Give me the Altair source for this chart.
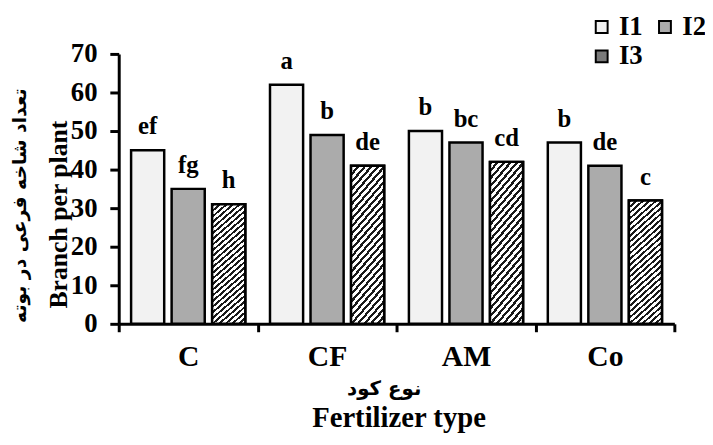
import altair as alt
import pandas as pd

categories = ["C", "CF", "AM", "Co"]
series = ["I1", "I2", "I3"]
i1_values = [45, 62, 50, 47]
i2_values = [35, 49, 47, 41]
i3_values = [31, 41, 42, 32]
i1_letters = ["ef", "a", "b", "b"]
i2_letters = ["fg", "b", "bc", "de"]
i3_letters = ["h", "de", "cd", "c"]
y_ticks = [0, 10, 20, 30, 40, 50, 60, 70]

rows = []
for s, vals, lets in zip(series, [i1_values, i2_values, i3_values],
                         [i1_letters, i2_letters, i3_letters]):
    for c, v, l in zip(categories, vals, lets):
        rows.append({"cat": c, "series": s, "value": v, "letter": l})
df = pd.DataFrame(rows)

FONT = "Liberation Serif"
AR_FONT = "DejaVu Sans"

# hatch-like stripes for I3 bars
N = 28
stops = []
for k in range(N):
    a = k / N
    b = (k + 0.45) / N
    c = (k + 1) / N
    stops += [alt.GradientStop(offset=a, color="#1a1a1a"),
              alt.GradientStop(offset=b, color="#1a1a1a"),
              alt.GradientStop(offset=b, color="#ffffff"),
              alt.GradientStop(offset=c, color="#ffffff")]
hatch = alt.LinearGradient(gradient="linear", stops=stops, x1=0, y1=0, x2=0.3, y2=1.25)

x_scale = alt.Scale(domain=categories, paddingInner=0, paddingOuter=0)
xo_scale = alt.Scale(domain=series, paddingInner=0.183, paddingOuter=0.305)
y_scale = alt.Scale(domain=[0, 70], nice=False)

x_axis_main = alt.Axis(
    title="نوع کود", titleFont=AR_FONT, titleFontSize=20, titleFontWeight="bold",
    titleColor="black", titleX=268, titleY=65, titleAlign="center", titleBaseline="middle",
    titleAngle=0,
    labelFont=FONT, labelFontSize=30, labelFontWeight="bold", labelColor="black",
    labelAngle=0, labelPadding=10, tickBand="extent", tickSize=8, tickWidth=3,
    tickColor="black", domainColor="black", domainWidth=3, grid=False,
)
y_axis_main = alt.Axis(
    title="Branch per plant", titleFont=FONT, titleFontSize=26, titleFontWeight="bold",
    titleColor="black", titleX=-61, titleY=162, titleAlign="center", titleBaseline="middle",
    titleAngle=270,
    values=y_ticks, labelFont=FONT, labelFontSize=27, labelFontWeight="bold",
    labelColor="black", labelPadding=13, tickSize=9, tickWidth=3, tickColor="black",
    domainColor="black", domainWidth=3, grid=False,
)
x_axis_2 = alt.Axis(
    orient="bottom", title="Fertilizer type", titleFont=FONT, titleFontSize=29,
    titleFontWeight="bold", titleColor="black", titleX=283, titleY=95,
    titleAlign="center", titleBaseline="middle", titleAngle=0,
    labels=False, ticks=False, domain=False, grid=False,
)
y_axis_2 = alt.Axis(
    orient="left", title="تعداد شاخه فرعی در بوته", titleFont=AR_FONT, titleFontSize=19,
    titleFontWeight="bold", titleColor="black", titleX=-100, titleY=153,
    titleAlign="center", titleBaseline="middle", titleAngle=270,
    labels=False, ticks=False, domain=False, grid=False,
)

base = alt.Chart(df)

bars = base.mark_bar(stroke="black", strokeWidth=2.5).encode(
    x=alt.X("cat:N", sort=categories, scale=x_scale, axis=x_axis_main),
    xOffset=alt.XOffset("series:N", sort=series, scale=xo_scale),
    y=alt.Y("value:Q", scale=y_scale, axis=y_axis_main),
    color=alt.Color(
        "series:N", sort=series,
        scale=alt.Scale(domain=series, range=["#f2f2f2", "#ababab", "#7a7a7a"]),
        legend=alt.Legend(
            orient="none", legendX=475, legendY=-41, columns=2, direction="horizontal",
            title=None, symbolType="square", symbolSize=144, symbolStrokeColor="black",
            symbolStrokeWidth=2, labelFont=FONT, labelFontSize=27, labelFontWeight="bold",
            labelColor="black", labelOffset=4, columnPadding=8, rowPadding=2, padding=0,
        ),
    ),
)

hatched = base.transform_filter(alt.datum.series == "I3").mark_bar(
    stroke="black", strokeWidth=2.5, fill=hatch
).encode(
    x=alt.X("cat:N", sort=categories, scale=x_scale, axis=None),
    xOffset=alt.XOffset("series:N", sort=series, scale=xo_scale),
    y=alt.Y("value:Q", scale=y_scale, axis=None),
)

labels = base.mark_text(
    dy=-16, baseline="alphabetic", align="center", font=FONT, fontSize=25,
    fontWeight="bold", color="black",
).encode(
    x=alt.X("cat:N", sort=categories, scale=x_scale, axis=x_axis_2),
    xOffset=alt.XOffset("series:N", sort=series, scale=xo_scale),
    y=alt.Y("value:Q", scale=y_scale, axis=y_axis_2),
    text="letter:N",
)

chart = alt.layer(bars, hatched, labels).resolve_axis(
    x="independent", y="independent"
).properties(
    width=562, height=273,
    padding={"left": 112, "top": 44, "right": 31, "bottom": 110},
    autosize=alt.AutoSizeParams(type="none"),
    background="white",
).configure_view(stroke=None)

chart.save("out.html", embed_options={"renderer": "svg", "actions": False})
